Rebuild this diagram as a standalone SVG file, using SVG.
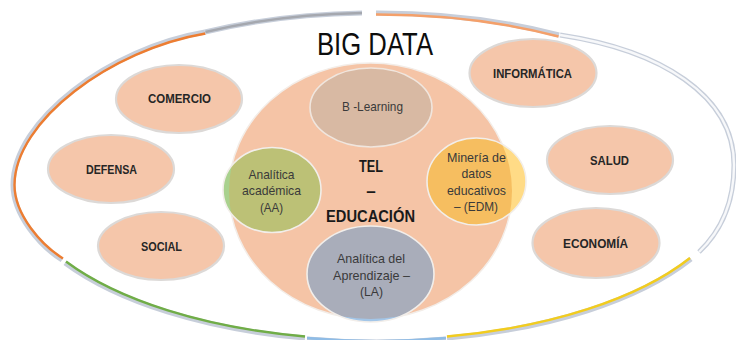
<svg xmlns="http://www.w3.org/2000/svg" width="736" height="340" viewBox="0 0 736 340">
  <style>
    .bg { fill: #FFFFFF; }
    .node { fill: #F5C6AA; stroke: #DCD9D7; stroke-width: 2.2; }
    .lbl { font-family: "Liberation Sans", Arial, sans-serif; font-weight: bold; font-size: 13px; fill: #262626; text-anchor: middle; }
    .sub { font-family: "Liberation Sans", Arial, sans-serif; font-size: 13.5px; fill: #3A3A3A; text-anchor: middle; }
    .title { font-family: "Liberation Sans", Arial, sans-serif; font-size: 32px; fill: #0D0D0D; text-anchor: middle; }
    .core { font-family: "Liberation Sans", Arial, sans-serif; font-weight: bold; font-size: 17px; fill: #1A1A1A; text-anchor: middle; }
    .rimOut { fill: none; stroke: #C7CEDA; stroke-width: 5; stroke-linecap: butt; }
    .rim { fill: none; stroke-width: 2.4; stroke-linecap: butt; }
    .circEdge { stroke: #F2EEEA; stroke-width: 1.6; }
  </style>
  <defs>
    <clipPath id="bigClip">
      <ellipse cx="370.5" cy="191" rx="141.5" ry="128"/>
    </clipPath>
  </defs>
  <rect class="bg" x="0" y="0" width="736" height="340"/>

  <g id="ring">
    <path class="rimOut" d="M 62 260 C 40 246 13 215 13 185 C 13 120 110 48 205 32"/>
    <path class="rim" stroke="#ED7D31" d="M 63 258.5 C 41.5 245 14.5 215 14.5 185 C 14.5 121 111 49.5 205.5 33.5"/>
    <path class="rimOut" d="M 205 32 A 361 163 0 0 1 362 13"/>
    <path class="rim" stroke="#A5A8AF" d="M 205.5 32 A 361 163 0 0 1 362 13"/>
    <path class="rimOut" d="M 376 13 A 361 163 0 0 1 559 35"/>
    <path class="rim" stroke="#F4A06A" d="M 376 14.5 A 359 161 0 0 1 558.5 36.5"/>
    <path class="rimOut" d="M 560 35 C 660 50 734 95 734 165 C 734 205 720 232 699 252"/>
    <path class="rim" stroke="#F7F8FA" d="M 560 35 C 660 50 734 95 734 165 C 734 205 720 232 699 252"/>
    <path class="rimOut" d="M 691 259 A 361 163 0 0 1 447 338"/>
    <path class="rim" stroke="#F2CC1E" d="M 690 258 A 359 161 0 0 1 447 336.5"/>
    <path class="rimOut" d="M 446 339 A 361 163 0 0 1 307 339"/>
    <path class="rim" stroke="#8FBCE6" d="M 446 338 A 361 163 0 0 1 307 338"/>
    <path class="rimOut" d="M 305 338 A 361 163 0 0 1 65 263"/>
    <path class="rim" stroke="#70AD47" d="M 305 336.5 A 359 161 0 0 1 66 261.5"/>
  </g>

  <g id="title">
    <text class="title" x="375" y="55" textLength="116" lengthAdjust="spacingAndGlyphs">BIG DATA</text>
  </g>

  <g id="comercio">
    <ellipse class="node" cx="179" cy="99" rx="63" ry="34"/>
    <text class="lbl" x="179.5" y="102.5" textLength="63" lengthAdjust="spacingAndGlyphs">COMERCIO</text>
  </g>
  <g id="defensa">
    <ellipse class="node" cx="111" cy="169" rx="63" ry="34"/>
    <text class="lbl" x="111.5" y="173.5" textLength="51" lengthAdjust="spacingAndGlyphs">DEFENSA</text>
  </g>
  <g id="social">
    <ellipse class="node" cx="161" cy="246" rx="63" ry="34"/>
    <text class="lbl" x="161.5" y="250.5" textLength="41" lengthAdjust="spacingAndGlyphs">SOCIAL</text>
  </g>
  <g id="informatica">
    <ellipse class="node" cx="533" cy="73" rx="63.5" ry="34"/>
    <text class="lbl" x="532.5" y="77.5" textLength="79" lengthAdjust="spacingAndGlyphs">INFORMÁTICA</text>
  </g>
  <g id="salud">
    <ellipse class="node" cx="610" cy="160" rx="63" ry="34"/>
    <text class="lbl" x="609.5" y="164.5" textLength="39" lengthAdjust="spacingAndGlyphs">SALUD</text>
  </g>
  <g id="economia">
    <ellipse class="node" cx="596" cy="243" rx="63.5" ry="35"/>
    <text class="lbl" x="595.5" y="248" textLength="65" lengthAdjust="spacingAndGlyphs">ECONOMÍA</text>
  </g>

  <g id="tel-educacion">
    <ellipse cx="370.5" cy="191" rx="141.5" ry="128" fill="#F5C4A6" stroke="#F3EDE8" stroke-width="1.5"/>
    <text class="core" x="371" y="172" textLength="24" lengthAdjust="spacingAndGlyphs">TEL</text>
    <text class="core" x="371" y="197">–</text>
    <text class="core" x="370.5" y="222" textLength="89" lengthAdjust="spacingAndGlyphs">EDUCACIÓN</text>
  </g>

  <g id="b-learning">
    <ellipse cx="371" cy="107.5" rx="61" ry="39.5" fill="#D8B9A3" stroke="#F0E6DE" stroke-width="1.6"/>
    <text class="sub" x="372.5" y="110.5" textLength="61" lengthAdjust="spacingAndGlyphs" fill="#404040">B -Learning</text>
  </g>

  <g id="analitica-academica">
    <ellipse cx="272" cy="190" rx="49" ry="42.5" fill="#A9D18E"/>
    <ellipse cx="272" cy="190" rx="49" ry="42.5" fill="#BCC176" clip-path="url(#bigClip)"/>
    <ellipse cx="272" cy="190" rx="49" ry="42.5" fill="none" class="circEdge"/>
    <text class="sub" x="271.5" y="178.5" textLength="46" lengthAdjust="spacingAndGlyphs">Analítica</text>
    <text class="sub" x="271.5" y="195" textLength="59" lengthAdjust="spacingAndGlyphs">académica</text>
    <text class="sub" x="271.5" y="211.5" textLength="23" lengthAdjust="spacingAndGlyphs">(AA)</text>
  </g>

  <g id="mineria-datos">
    <ellipse cx="476.5" cy="181.5" rx="49.5" ry="43.5" fill="#FFDB86"/>
    <ellipse cx="476.5" cy="181.5" rx="49.5" ry="43.5" fill="#F6BE60" clip-path="url(#bigClip)"/>
    <ellipse cx="476.5" cy="181.5" rx="49.5" ry="43.5" fill="none" class="circEdge"/>
    <text class="sub" x="476.5" y="162" textLength="59" lengthAdjust="spacingAndGlyphs">Minería de</text>
    <text class="sub" x="476.5" y="178" textLength="30" lengthAdjust="spacingAndGlyphs">datos</text>
    <text class="sub" x="476.5" y="194.5" textLength="59" lengthAdjust="spacingAndGlyphs">educativos</text>
    <text class="sub" x="476" y="211" textLength="44" lengthAdjust="spacingAndGlyphs">– (EDM)</text>
  </g>

  <g id="analitica-aprendizaje">
    <ellipse cx="370.5" cy="274" rx="63.5" ry="48" fill="#A3C6E8"/>
    <ellipse cx="370.5" cy="274" rx="63.5" ry="48" fill="#A9ADBA" clip-path="url(#bigClip)"/>
    <ellipse cx="370.5" cy="274" rx="63.5" ry="48" fill="none" class="circEdge"/>
    <text class="sub" x="371" y="263" textLength="68" lengthAdjust="spacingAndGlyphs">Analítica del</text>
    <text class="sub" x="371.5" y="279.5" textLength="77" lengthAdjust="spacingAndGlyphs">Aprendizaje –</text>
    <text class="sub" x="371.5" y="296" textLength="23" lengthAdjust="spacingAndGlyphs">(LA)</text>
  </g>
</svg>
